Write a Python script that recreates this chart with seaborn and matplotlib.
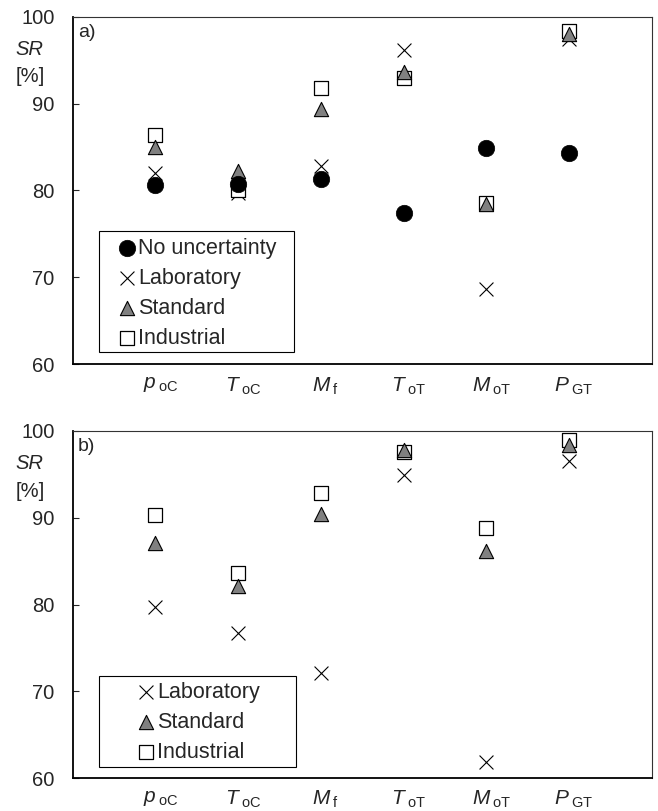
import numpy as np
import pandas as pd
import matplotlib
matplotlib.use("Agg")
import matplotlib.pyplot as plt
import matplotlib.transforms as mtransforms
from matplotlib.patches import Rectangle
import seaborn as sns

# Parameters on the x axis (mathtext labels)
params = [r"$p_{\;\mathrm{oC}}$", r"$T_{\;\mathrm{oC}}$", r"$M_{\;\mathrm{f}}$",
          r"$T_{\;\mathrm{oT}}$", r"$M_{\;\mathrm{oT}}$", r"$P_{\;\mathrm{GT}}$"]

# Panel a) success rate SR [%]
a_no_uncertainty = [80.6, 80.8, 81.3, 77.4, 84.9, 84.3]
a_laboratory = [82.0, 79.7, 82.8, 96.2, 68.7, 97.4]
a_standard = [85.0, 82.2, 89.4, 93.6, 78.4, 98.0]
a_industrial = [86.4, 80.1, 91.8, 93.0, 78.5, 98.4]

# Panel b) success rate SR [%]
b_laboratory = [79.7, 76.7, 72.1, 94.9, 61.8, 96.5]
b_standard = [87.1, 82.1, 90.4, 97.8, 86.2, 98.4]
b_industrial = [90.3, 83.6, 92.9, 97.6, 88.8, 99.0]

sns.set_style("ticks")
plt.rcParams["font.family"] = ["Liberation Sans", "DejaVu Sans"]
plt.rcParams["mathtext.fontset"] = "custom"
plt.rcParams["mathtext.rm"] = "Liberation Sans"
plt.rcParams["mathtext.it"] = "Liberation Sans:italic"
plt.rcParams["mathtext.bf"] = "Liberation Sans:bold"

STYLES = {
    "No uncertainty": dict(marker="o", s=140, color="black", edgecolor="black", linewidth=0.5, zorder=6),
    "Laboratory": dict(marker="x", s=100, color="black", linewidth=0.8, zorder=3),
    "Standard": dict(marker="^", s=105, color="#808080", edgecolor="black", linewidth=0.8, zorder=5),
    "Industrial": dict(marker="s", s=100, color="white", edgecolor="black", linewidth=0.9, zorder=4),
}

W, H = 658, 811
LEFT, RIGHT = 72.7, 651.7


def px_axes(fig_top, fig_bottom):
    return [LEFT / W, 1 - fig_bottom / H, (RIGHT - LEFT) / W, (fig_bottom - fig_top) / H]


def draw_panel(fig, ax, series, tag, top_px, bottom_px, legend_box, legend_mid, handle_center):
    df = pd.DataFrame({"param": params})
    for name, vals in series.items():
        df[name] = vals
    long = df.melt(id_vars="param", var_name="case", value_name="SR")
    for name in series:
        sub = long[long["case"] == name]
        sns.scatterplot(data=sub, x="param", y="SR", ax=ax, label=name,
                        legend=False, **STYLES[name])

    ax.set_xlim(-1, 6)
    ax.set_ylim(60, 100)
    ax.set_yticks([60, 70, 80, 90, 100])
    ax.set_xlabel("")
    ax.set_ylabel("")
    ax.tick_params(axis="y", direction="in", length=4.5, width=0.8, pad=13, labelsize=14.5)
    ax.tick_params(axis="x", length=0, pad=8, labelsize=15)
    shift = mtransforms.ScaledTranslation(5 / 100, 0, fig.dpi_scale_trans)
    for lab in ax.get_xticklabels():
        lab.set_transform(lab.get_transform() + shift)
    for side in ["left", "bottom"]:
        ax.spines[side].set_linewidth(1.3)
        ax.spines[side].set_color("black")
    for side in ["top", "right"]:
        ax.spines[side].set_visible(True)
        ax.spines[side].set_linewidth(0.8)
        ax.spines[side].set_color("#333333")

    h_ax = bottom_px - top_px
    w_ax = RIGHT - LEFT

    def fx(px):
        return (px - LEFT) / w_ax

    def fy(py):
        return 1 - (py - top_px) / h_ax

    ax.text(fx(78), fy(top_px + 15.5), tag, transform=ax.transAxes,
            ha="left", va="center", fontsize=14)
    ax.text(fx(29), fy(top_px + 32.6), "SR", transform=ax.transAxes,
            ha="center", va="center", fontsize=14.5, style="italic")
    ax.text(fx(30), fy(top_px + 60.3), "[%]", transform=ax.transAxes,
            ha="center", va="center", fontsize=14.5)

    # legend box
    x0, y0, x1, y1 = legend_box
    ax.add_patch(Rectangle((fx(x0), fy(y1)), fx(x1) - fx(x0), fy(y0) - fy(y1),
                           transform=ax.transAxes, fill=True, facecolor="white",
                           edgecolor="black", linewidth=0.8, zorder=7))
    hl = 0.8
    fs = 15.5
    hl_px = hl * fs * 100 / 72
    leg = ax.legend(loc="center left",
                    bbox_to_anchor=(fx(handle_center - hl_px / 2), fy(legend_mid)),
                    frameon=False, borderpad=0, borderaxespad=0, fontsize=fs,
                    handlelength=hl, handletextpad=0.15, labelspacing=0.42,
                    scatterpoints=1)
    leg.set_zorder(8)


fig = plt.figure(figsize=(W / 100, H / 100), dpi=100)
ax_a = fig.add_axes(px_axes(16.7, 364.2))
ax_b = fig.add_axes(px_axes(431.0, 778.0))

draw_panel(fig, ax_a,
           {"No uncertainty": a_no_uncertainty, "Laboratory": a_laboratory,
            "Standard": a_standard, "Industrial": a_industrial},
           "a)", 16.7, 364.2, (98.5, 231, 294, 352), 293.5, 126.5)
draw_panel(fig, ax_b,
           {"Laboratory": b_laboratory, "Standard": b_standard, "Industrial": b_industrial},
           "b)", 431.0, 778.0, (99, 676, 296, 767), 722.3, 145.6)

fig.savefig("out.png", dpi=100)
